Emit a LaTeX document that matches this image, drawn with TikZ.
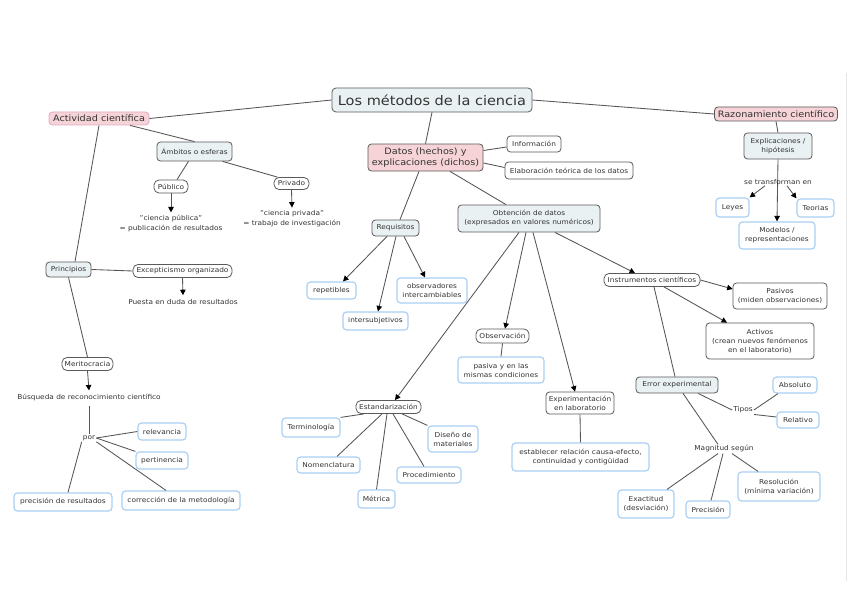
\documentclass[tikz,border=0pt]{standalone}
\usepackage{fontspec}
\setmainfont{DejaVu Sans}[FakeStretch=1.1]
\usetikzlibrary{arrows.meta}
\definecolor{txt}{HTML}{333333}
\definecolor{bord}{HTML}{5A5A5A}
\definecolor{cfill}{HTML}{EAF1F3}
\definecolor{pfill}{HTML}{F6D3D6}
\definecolor{pbord}{HTML}{E2A9C8}
\definecolor{bbord}{HTML}{A9D0F5}
\definecolor{linec}{HTML}{555555}
\tikzset{
  base/.style={font=\fontsize{6.7}{9}\selectfont, text=txt, align=center, inner sep=1pt, rounded corners=3.5pt},
  grayc/.style={base, fill=cfill, draw=bord, line width=0.8pt},
  whitec/.style={base, fill=white, draw=bord, line width=0.8pt},
  bluec/.style={base, fill=white, draw=bbord, line width=1.2pt},
  pinkc/.style={base, fill=pfill, draw=bord, line width=0.8pt, font=\fontsize{8.8}{11.5}\selectfont},
  lbl/.style={font=\fontsize{6.7}{10}\selectfont, text=txt, align=center, inner sep=1pt},
  con/.style={draw=linec, line width=0.85pt},
  arr/.style={con, -{Triangle[length=5.5pt,width=5.5pt,color=black]}},
}
\begin{document}
\begin{tikzpicture}[x=1pt,y=-1pt]
\useasboundingbox (0,0) rectangle (848,599);
\fill[white] (0,0) rectangle (848,599);
\draw[black!10, line width=0.6pt] (846,73) -- (846,581);

% top level
\node[grayc, font=\fontsize{13.2}{15}\selectfont, minimum width=200, minimum height=24, rounded corners=4pt] (title) at (432,100) {Los métodos de la ciencia};
\node[pinkc, draw=pbord, minimum width=100, minimum height=13] (act) at (99,118.5) {Actividad científica};
\node[pinkc, minimum width=123, minimum height=14] (razon) at (776,114) {Razonamiento científico};
\node[pinkc, minimum width=115, minimum height=27] (datos) at (425.5,157.5) {Datos (hechos) y\\explicaciones (dichos)};
\node[whitec, minimum width=54, minimum height=16] (info) at (534,144) {Información};
\node[whitec, minimum width=128, minimum height=17] (elab) at (569,170.5) {Elaboración teórica de los datos};

% left branch
\node[grayc, minimum width=75, minimum height=19] (amb) at (194.5,151.5) {Ámbitos o esferas};
\node[whitec, minimum width=34, minimum height=13, rounded corners=5pt] (pub) at (171,186.5) {Público};
\node[whitec, minimum width=35, minimum height=12, rounded corners=5pt] (priv) at (291.5,183.5) {Privado};
\node[lbl, inner sep=3pt] (pubt) at (171,224) {"ciencia pública"\\= publicación de resultados};
\node[lbl, inner sep=3pt] (privt) at (292,219) {"ciencia privada"\\= trabajo de investigación};
\node[grayc, minimum width=45, minimum height=15] (princ) at (68.5,269.5) {Principios};
\node[whitec, minimum width=99, minimum height=13, rounded corners=5pt] (excep) at (182.5,271) {Excepticismo organizado};
\node[lbl, inner sep=4pt] (puesta) at (183,302) {Puesta en duda de resultados};
\node[whitec, minimum width=51, minimum height=13, rounded corners=5pt] (merit) at (87.5,364) {Meritocracia};
\node[lbl, inner sep=4pt] (busq) at (89,398) {Búsqueda de reconocimiento científico};
\node[lbl] (por) at (89,438) {por};
\node[bluec, minimum width=48, minimum height=17] (relev) at (162,431.5) {relevancia};
\node[bluec, minimum width=52, minimum height=17] (pert) at (162,460.5) {pertinencia};
\node[bluec, minimum width=118, minimum height=19] (corr) at (181,500.5) {corrección de la metodología};
\node[bluec, minimum width=98, minimum height=18] (prec) at (63,502) {precisión de resultados};

% middle branch
\node[grayc, minimum width=47, minimum height=16] (req) at (395.5,228) {Requisitos};
\node[grayc, minimum width=142, minimum height=27] (obt) at (529,218.5) {Obtención de datos\\(expresados en valores numéricos)};
\node[bluec, minimum width=49, minimum height=17] (repet) at (331.5,290.5) {repetibles};
\node[bluec, minimum width=70, minimum height=25] (obs) at (432,290.5) {observadores\\intercambiables};
\node[bluec, minimum width=65, minimum height=18] (inter) at (375.5,321) {intersubjetivos};
\node[whitec, minimum width=53, minimum height=14, rounded corners=5pt] (observ) at (502.5,336) {Observación};
\node[bluec, minimum width=86, minimum height=26] (pasiva) at (501,370) {pasiva y en las\\mismas condiciones};
\node[whitec, minimum width=65, minimum height=13, rounded corners=5pt] (estand) at (388.5,407) {Estandarización};
\node[bluec, minimum width=58, minimum height=19] (termin) at (311,427.5) {Terminología};
\node[bluec, minimum width=50, minimum height=26] (diseno) at (453,439) {Diseño de\\materiales};
\node[bluec, minimum width=63, minimum height=16] (nomen) at (328.5,465) {Nomenclatura};
\node[bluec, minimum width=64, minimum height=16] (proced) at (429,475) {Procedimiento};
\node[bluec, minimum width=37, minimum height=18] (metr) at (376.5,499) {Métrica};
\node[whitec, minimum width=68, minimum height=22] (exper) at (580,403) {Experimentación\\en laboratorio};
\node[bluec, minimum width=137, minimum height=28] (establ) at (580.5,457) {establecer relación causa-efecto,\\continuidad y contigüidad};

% right-middle branch
\node[whitec, minimum width=96, minimum height=13, rounded corners=5pt] (instr) at (652,280) {Instrumentos científicos};
\node[whitec, minimum width=94, minimum height=26] (pasivos) at (780,296) {Pasivos\\(miden observaciones)};
\node[whitec, minimum width=108, minimum height=36] (activos) at (760,341) {Activos\\(crean nuevos fenómenos\\en el laboratorio)};
\node[grayc, minimum width=82, minimum height=16] (error) at (677,385) {Error experimental};
\node[lbl] (tipos) at (743,410) {Tipos};
\node[bluec, minimum width=44, minimum height=16] (absol) at (795,385) {Absoluto};
\node[bluec, minimum width=42, minimum height=16] (relat) at (798,420) {Relativo};
\node[lbl] (magn) at (724,449) {Magnitud según};
\node[bluec, minimum width=56, minimum height=28] (exact) at (646,504) {Exactitud\\(desviación)};
\node[bluec, minimum width=44, minimum height=17] (prec2) at (708,509.5) {Precisión};
\node[bluec, minimum width=82, minimum height=29] (resol) at (779,486.5) {Resolución\\(mínima variación)};

% right branch
\node[grayc, minimum width=68, minimum height=26] (expl) at (778,146) {Explicaciones /\\hipótesis};
\node[bluec, minimum width=33, minimum height=19] (leyes) at (732.5,207.5) {Leyes};
\node[bluec, minimum width=37, minimum height=18] (teor) at (815.5,208) {Teorias};
\node[bluec, minimum width=76, minimum height=27] (model) at (777,235.5) {Modelos /\\representaciones};

% connectors
\draw[con] (title.west) -- (act.east);
\draw[con] (title.east) -- (razon.west);
\draw[con] (title.south) -- (datos.north);
\draw[con] ([xshift=31pt]act.south) -- (amb.north);
\draw[con] ([xshift=-6pt]amb.south) -- ([xshift=6pt]pub.north);
\draw[con] ([xshift=28pt]amb.south) -- ([xshift=-14pt]priv.north);
\draw[arr] (pub.south) -- (pubt.north);
\draw[arr] (priv.south) -- (privt.north);
\draw[con] (act.south) -- ([xshift=6.5pt]princ.north);
\draw[con] (princ.east) -- (excep.west);
\draw[arr] (excep.south) -- (puesta.north);
\draw[con] (princ.south) -- (merit.north);
\draw[arr] (merit.south) -- (busq.north);
\draw[con] (busq.south) -- (por.north);
\draw[con] (por.east) -- (relev.west);
\draw[con] (por.east) -- (pert.north west);
\draw[con] (por.south east) -- ([xshift=-15pt]corr.north);
\draw[con] (por.south west) -- ([xshift=5pt]prec.north);

\draw[con] ([yshift=7pt]datos.east) -- ([yshift=-3pt]info.west);
\draw[con] ([yshift=-5.5pt]datos.east) -- ([yshift=3pt]elab.west);
\draw[con] ([xshift=-6.5pt]datos.south) -- ([xshift=4.5pt]req.north);
\draw[con] ([xshift=24.5pt]datos.south) -- ([xshift=-23pt]obt.north);
\draw[arr] ([xshift=-8.5pt]req.south) -- ([xshift=11.5pt]repet.north);
\draw[arr] ([xshift=0.5pt]req.south) -- ([xshift=2.5pt]inter.north);
\draw[arr] ([xshift=8.5pt]req.south) -- ([xshift=-7pt]obs.north);
\draw[arr] ([xshift=-10pt]obt.south) -- ([xshift=6.5pt]estand.north);
\draw[arr] ([xshift=-3pt]obt.south) -- ([xshift=2.5pt]observ.north);
\draw[arr] ([xshift=4pt]obt.south) -- ([xshift=-5pt]exper.north);
\draw[arr] ([xshift=26pt]obt.south) -- ([xshift=-17pt]instr.north);
\draw[con] (observ.south) -- (pasiva.north);
\draw[con] ([xshift=-24.5pt]estand.south) -- (termin.north east);
\draw[con] ([xshift=-6.5pt]estand.south) -- ([xshift=8.5pt]nomen.north);
\draw[con] ([xshift=-1.5pt]estand.south) -- (metr.north);
\draw[con] ([xshift=4.5pt]estand.south) -- ([xshift=-5pt]proced.north);
\draw[con] ([xshift=13.5pt]estand.south) -- (diseno.north west);
\draw[con] (exper.south) -- (establ.north);

\draw[arr] (instr.east) -- ([yshift=7pt]pasivos.west);
\draw[arr] ([xshift=12pt]instr.south) -- ([xshift=-33pt]activos.north);
\draw[con] ([xshift=2pt]instr.south) -- ([xshift=-2pt]error.north);
\draw[con] ([xshift=21pt]error.south) -- (tipos.west);
\draw[con] (tipos.east) -- ([xshift=-17pt]absol.south);
\draw[con] (tipos.south east) -- ([yshift=3pt]relat.west);
\draw[con] ([xshift=6pt]error.south) -- ([xshift=-6pt]magn.north);
\draw[con] ([xshift=-6pt]magn.south) -- ([xshift=21pt]exact.north);
\draw[con] ([xshift=-1pt]magn.south) -- ([xshift=3pt]prec2.north);
\draw[con] ([xshift=8pt]magn.south) -- ([xshift=-21pt]resol.north);

\draw[con] (razon.south) -- (expl.north);
\draw[arr] (expl.south) -- (model.north);
\node[lbl] (transf) at (778,182) {se transforman en};
\draw[arr] ([xshift=-13pt]transf.south) -- (leyes.north east);
\draw[arr] ([xshift=9pt]transf.south) -- (teor.north west);
\end{tikzpicture}
\end{document}
